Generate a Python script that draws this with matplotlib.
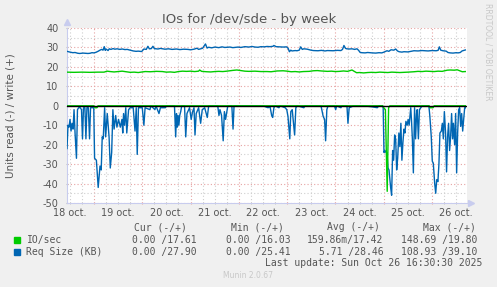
import numpy as np
import matplotlib
matplotlib.use("Agg")
import matplotlib.pyplot as plt
from matplotlib.transforms import blended_transform_factory

plt.rcParams['axes.unicode_minus'] = False

# ---------------- data (time in hours since 18 oct 00:00) ----------------
day_labels = ["18 oct.", "19 oct.", "20 oct.", "21 oct.", "22 oct.",
              "23 oct.", "24 oct.", "25 oct.", "26 oct."]
y_ticks = [-50, -40, -30, -20, -10, 0, 10, 20, 30, 40]

# write IO/sec (+, green)
wr_io_t = [10.6, 14, 18, 22, 26, 29, 30.5, 32, 34, 36, 38, 40, 42, 44, 46, 48, 49.5, 52,
           55, 58, 60, 62, 64, 66, 68, 70, 72, 74, 76, 76.5, 77.5, 80, 82, 84, 86, 88,
           90, 93, 95, 97, 99, 101, 104, 107, 110, 112, 115, 118, 120, 122, 124, 126,
           128, 131, 133, 135, 137, 140, 142, 144, 146, 148, 150, 152.2, 153.5, 154.5,
           156, 158, 160, 162, 164, 166, 168, 170, 172, 174, 176, 178, 180, 183, 185,
           187, 189, 191, 193, 195, 197, 199.5, 201, 203, 204.5, 206, 207, 208.5]
wr_io_v = [17.3, 17.2, 17.3, 17.2, 17.3, 17.3, 17.8, 17.6, 17.4, 17.6, 17.8, 17.5, 17.2,
           17.3, 17.1, 17.4, 17.6, 17.5, 17.7, 17.6, 17.3, 17.4, 17.2, 17.6, 17.8, 17.7,
           17.8, 17.6, 17.8, 18.4, 17.7, 17.5, 17.4, 17.6, 17.7, 17.6, 17.8, 18.2, 18.4,
           18.1, 17.8, 17.7, 17.8, 17.6, 17.6, 17.5, 17.9, 18.0, 17.8, 17.5, 17.6, 17.4,
           17.6, 17.7, 18.0, 18.1, 17.9, 17.7, 17.8, 17.6, 17.7, 17.9, 17.7, 18.4, 17.6,
           17.0, 17.1, 16.9, 17.1, 17.2, 17.1, 17.3, 17.2, 17.1, 17.3, 17.2, 17.1, 17.2,
           17.3, 17.5, 17.7, 17.6, 17.8, 17.7, 17.6, 17.8, 17.7, 18.3, 18.4, 18.3, 18.5,
           17.9, 17.5, 17.6]

# write request size KB (+, blue)
wr_req_t = [10.6, 12.1, 13.5, 14.6, 16, 17, 18.5, 19.5, 21, 22, 23, 24, 25, 26, 27, 27.8,
            28.5, 29.1, 29.6, 30, 31, 31.6, 32.4, 33.5, 34.4, 35.5, 36.9, 38, 39.4, 40.5,
            42.4, 43.5, 44.9, 46, 47.7, 48.8, 50, 50.8, 51.5, 52.5, 53.3, 54, 55.8, 57,
            59.3, 61, 62.8, 65, 66.7, 68.5, 70.7, 72, 73.7, 75.2, 76, 77, 78, 79.4, 80.2,
            81, 82.5, 84.1, 86, 87.6, 89, 91.6, 93, 95.6, 97, 99, 101, 102.5, 104, 105.5,
            107, 108.5, 110, 111.5, 113, 113.4, 114.5, 116.4, 118, 119.7, 120.5, 121.1,
            121.8, 122.4, 124, 124.9, 126, 126.7, 127.5, 128.3, 130, 131.8, 133, 135.3,
            137, 138.8, 140, 142.8, 145, 146.7, 147.5, 148.2, 149, 149.6, 151, 152.2,
            153.5, 154.7, 155.5, 156.2, 157, 158.7, 160, 162.2, 164, 165.6, 167, 168.1,
            169.6, 170.5, 171.6, 173, 173.9, 174.8, 175.6, 177, 178, 180, 181.5, 183,
            185, 187, 188.5, 190, 192, 194, 195, 195.6, 196.3, 197.4, 199, 199.9, 201,
            202.4, 204, 204.9, 206, 206.9, 208.5]
wr_req_v = [28.0, 27.6, 27.3, 27.4, 27.0, 26.9, 27.1, 27.0, 26.9, 27.0, 27.3, 27.2, 27.5,
            28.0, 28.6, 29.0, 28.6, 30.4, 28.5, 29.2, 28.4, 29.3, 29.0, 29.4, 29.1, 29.3,
            29.0, 29.2, 28.9, 29.0, 28.5, 28.2, 28.0, 28.1, 27.9, 29.2, 29.0, 30.6, 29.3,
            29.4, 30.6, 29.4, 29.2, 29.5, 29.1, 29.3, 29.0, 29.2, 28.9, 29.1, 29.0, 28.8,
            29.1, 29.6, 29.0, 29.3, 29.6, 31.8, 29.7, 30.1, 29.8, 30.2, 29.9, 30.3, 30.0,
            30.2, 29.9, 30.2, 30.0, 30.4, 30.2, 30.5, 30.2, 30.1, 30.4, 30.3, 30.5, 30.4,
            30.6, 31.0, 30.4, 30.3, 30.2, 30.3, 29.5, 27.8, 28.6, 28.2, 28.4, 28.3, 28.6,
            30.3, 29.0, 29.3, 29.1, 28.6, 28.4, 28.3, 28.5, 28.2, 28.4, 28.3, 28.5, 28.4,
            29.0, 31.0, 29.5, 29.3, 29.2, 29.3, 29.0, 29.3, 28.5, 27.5, 27.3, 27.2, 27.4,
            27.2, 27.1, 27.3, 27.2, 27.6, 28.3, 28.0, 28.8, 28.6, 29.2, 28.2, 27.8, 27.6,
            27.8, 27.7, 28.0, 28.3, 28.2, 28.4, 28.3, 28.2, 28.4, 28.3, 28.5, 30.3, 28.6,
            28.3, 28.1, 27.4, 27.2, 27.1, 27.3, 27.2, 27.4, 28.2, 28.7]

# read IO/sec (-, green)
rd_io_t = [10.6, 24.0, 24.5, 25.5, 26.0, 167.5, 168.0, 168.8, 169.7, 170.4, 171.0,
           190.5, 191.0, 192.5, 193.0, 208.5]
rd_io_v = [0, 0, -1, -1, 0, 0, -1, -2, -44, -1, 0, 0, -1, -1, 0, 0]

# read request size KB (-, blue)
rd_req_t = [10.6, 11.1, 11.6, 12.1, 12.6, 13.1, 13.6, 14.1, 14.6, 15.3, 15.8, 16.4, 17.2,
            17.8, 18.3, 18.8, 19.5, 20.0, 20.5, 21.2, 21.8, 22.3, 23.2, 23.9, 24.3, 25.2,
            25.7, 26.1, 27.0, 27.6, 28.1, 28.6, 29.3, 29.8, 30.6, 31.5, 32.1, 32.8, 33.4,
            34.0, 34.8, 35.4, 36.2, 37.1, 37.9, 38.3, 38.7, 39.2, 39.8, 40.3, 41.2, 42.0,
            43.5, 44.4, 45.0, 45.5, 46.1, 48.0, 48.8, 49.4, 51.8, 52.3, 54.3, 54.8, 56.3,
            57.0, 59.5, 60.0, 64.0, 64.6, 65.0, 65.4, 65.8, 66.2, 66.6, 67.1, 67.6, 69.0,
            69.6, 70.2, 71.5, 72.3, 73.0, 73.7, 74.2, 74.8, 76.0, 77.0, 77.8, 79.0, 80.3,
            81.0, 85.5, 86.1, 86.6, 87.4, 88.2, 88.8, 89.4, 90.0, 90.5, 92.5, 93.1, 93.6,
            108.0, 110.5, 111.5, 112.3, 112.8, 113.4, 114.0, 115.9, 116.5, 119.0, 119.8,
            120.4, 121.3, 121.8, 122.5, 123.7, 124.3, 125.0, 128.3, 128.8, 136.8, 137.4,
            137.9, 138.6, 139.1, 139.7, 140.3, 143.5, 144.1, 144.6, 146.7, 147.2, 149.7,
            150.2, 150.8, 152.0, 153.0, 158.0, 162.0, 164.8, 165.5, 167.3, 167.7, 168.1,
            168.6, 169.1, 169.6, 170.1, 170.6, 171.4, 171.9, 172.4, 172.9, 173.4, 173.9,
            174.4, 174.9, 175.5, 176.0, 176.5, 177.0, 177.5, 178.0, 178.5, 179.0, 179.6,
            180.1, 180.6, 181.4, 181.8, 182.2, 182.7, 183.3, 183.8, 184.3, 184.6, 185.2,
            185.7, 186.4, 187.0, 190.4, 190.9, 191.6, 192.1, 192.6, 193.3, 193.8, 194.3,
            194.9, 195.4, 195.9, 196.6, 197.1, 197.6, 198.1, 198.7, 199.2, 199.7, 200.2,
            200.7, 201.2, 201.7, 202.2, 202.6, 203.2, 203.7, 204.2, 204.7, 205.2, 205.7,
            206.2, 206.7, 207.2, 207.7, 208.2, 208.5]
rd_req_v = [-22, -10, -11, -7, -13, -9, -12, -2, -14, -27, -2, -1, -1, -2, -17, -1, -1, -17,
            -1, -1, -17, -1, -1, -1, -27, -28, -36, -42, -31, -33, -16, -17, -1, -16, -4,
            -16, -32, -24, -2, -12, -5, -11, -7, -11, -7, -14, -4, -10, -1, -14, -2, -1,
            -1, -13, -1, -25, -1, -1, -10, -1, -2, 0, -2, 0, -4, -1, -1, 0, 0, -16, -4,
            -11, -5, -10, -5, -3, 0, 0, -16, -4, -1, -7, -3, -1, -15, -4, -1, -9, -2, -1,
            -6, 0, 0, -5, -2, -5, -18, -3, -7, -3, 0, 0, -12, 0,
            0, -1, -0.5, -5, -6, -1, 0, -1, 0, -1, -2, -5.5, -17, -3, -2, -15, -1, 0, -1,
            0, 0, -3, -5.5, -7, -18, -2, 0, 0, -2, 0, -1, 0, 0, -9, -1, -0.5, 0, 0, -0.5,
            -1, 0, 0, -1, -24, -23, -24, -24, -32, -33, -42, -46, -23, -28, -15, -17, -33,
            -27, -14, -21, -9, -28, -19, -12, -14, -8, -10, -7, -10, -1, -8, -17, -34.5,
            -1, -17, -4, -2, -17, -2, -1, 0, 0, -5.5, -16, -28.5, -29.5, -40, -45, -38,
            -39, -30, -14, -13, -9, -17, -3, -14, -34, -16, -9, -23, -16, -4, -17, -9, -20,
            -4, -34.5, -14, -2, -1, -10.6, -4, -13, -7, -1, -1]

legend_names = ["IO/sec", "Req Size (KB)"]
legend_cur = ["0.00 /17.61", "0.00 /27.90"]
legend_min = ["0.00 /16.03", "0.00 /25.41"]
legend_avg = ["159.86m/17.42", "5.71 /28.46"]
legend_max = ["148.69 /19.80", "108.93 /39.10"]

GREEN = "#00CC00"
BLUE = "#0066B3"
TXT = "#555555"

# ---------------- figure ----------------
W, H = 497, 287
fig = plt.figure(figsize=(W / 100, H / 100), dpi=100, facecolor="#F0F0F0")
ax = fig.add_axes([67 / W, 1 - 203 / H, 400 / W, 175 / H])
ax.set_facecolor("white")

def fx(px):
    return px / W

def fy(py):
    return 1 - py / H

ax.set_xlim(10.6, 209.35)
ax.set_ylim(-50, 40)

ax.set_xticks(np.arange(24, 209, 24))
ax.set_xticks(np.arange(12, 210, 6), minor=True)
ax.set_xticklabels([])
ax.set_yticks(y_ticks)
ax.set_yticklabels([str(v) for v in y_ticks])
ax.set_yticks(np.arange(-45, 40, 10), minor=True)

ax.grid(which="minor", color="#CFCFCF", linestyle=(0, (1, 2)), lw=0.8)
ax.grid(which="major", color="#E6A3A3", linestyle=(0, (1, 2)), lw=0.8)
ax.set_axisbelow(True)

ax.tick_params(axis="x", which="major", length=2, color="#E6A3A3", direction="inout")
ax.tick_params(axis="x", which="minor", length=2, color="#BBBBBB", direction="inout")
ax.tick_params(axis="y", which="major", length=2, color="#BBBBBB", direction="inout",
               labelsize=7, labelcolor=TXT, pad=5)
ax.tick_params(axis="y", which="minor", length=0)

for s in ["top", "right"]:
    ax.spines[s].set_visible(False)
for s in ["left", "bottom"]:
    ax.spines[s].set_color("#C8CCEE")
    ax.spines[s].set_linewidth(0.8)

# arrows at axis ends
ax.plot([0], [1.035], marker="^", ms=4, color="#C8CCEE", transform=ax.transAxes, clip_on=False)
ax.plot([1.01], [0], marker=">", ms=4, color="#C8CCEE", transform=ax.transAxes, clip_on=False)

# series
ax.plot(wr_io_t, wr_io_v, color=GREEN, lw=1.0, zorder=3)
ax.plot(wr_req_t, wr_req_v, color=BLUE, lw=1.0, zorder=3)
ax.plot(rd_req_t, rd_req_v, color=BLUE, lw=1.0, zorder=3)
ax.plot(rd_io_t, rd_io_v, color=GREEN, lw=1.0, zorder=4)
ax.axhline(0, color="black", lw=1.0, zorder=5)

# x labels at noon
trans = blended_transform_factory(ax.transData, ax.transAxes)
for i, lab in enumerate(day_labels):
    ax.text(12 + 24 * i, -0.055, lab, transform=trans, ha="center", va="center",
            fontsize=7, color=TXT)

# title & labels
fig.text(fx(249), fy(19), "IOs for /dev/sde - by week", ha="center", va="center",
         fontsize=9.5, color=TXT)
fig.text(fx(11), fy(116), "Units read (-) / write (+)", rotation=90, ha="center",
         va="center", fontsize=7.5, color=TXT)
fig.text(fx(488), fy(52), "RRDTOOL / TOBI OETIKER", rotation=270, ha="center",
         va="center", fontsize=5.5, color="#C8C8C8")

# legend table
mono = dict(family="DejaVu Sans Mono", fontsize=7, color=TXT, va="center")
hdr_y = 227.5
fig.text(fx(187), fy(hdr_y), "Cur (-/+)", ha="right", **mono)
fig.text(fx(283.5), fy(hdr_y), "Min (-/+)", ha="right", **mono)
fig.text(fx(380), fy(hdr_y), "Avg (-/+)", ha="right", **mono)
fig.text(fx(476), fy(hdr_y), "Max (-/+)", ha="right", **mono)

row_y = [239.7, 251.7]
colors = [GREEN, BLUE]
for i in range(2):
    y = row_y[i]
    fig.patches.append(plt.Rectangle((fx(14), fy(y + 3)), 6 / W, 6 / H,
                                     transform=fig.transFigure, color=colors[i]))
    fig.text(fx(26.5), fy(y), legend_names[i], ha="left", **mono)
    fig.text(fx(197), fy(y), legend_cur[i], ha="right", **mono)
    fig.text(fx(291), fy(y), legend_min[i], ha="right", **mono)
    fig.text(fx(383.5), fy(y), legend_avg[i], ha="right", **mono)
    fig.text(fx(477), fy(y), legend_max[i], ha="right", **mono)

fig.text(fx(482.5), fy(263.3), "Last update: Sun Oct 26 16:30:30 2025", ha="right", **mono)
fig.text(fx(248), fy(276), "Munin 2.0.67", ha="center", va="center", fontsize=5.5,
         color="#C8C8C8")

fig.savefig("out.png", dpi=100, facecolor=fig.get_facecolor())
